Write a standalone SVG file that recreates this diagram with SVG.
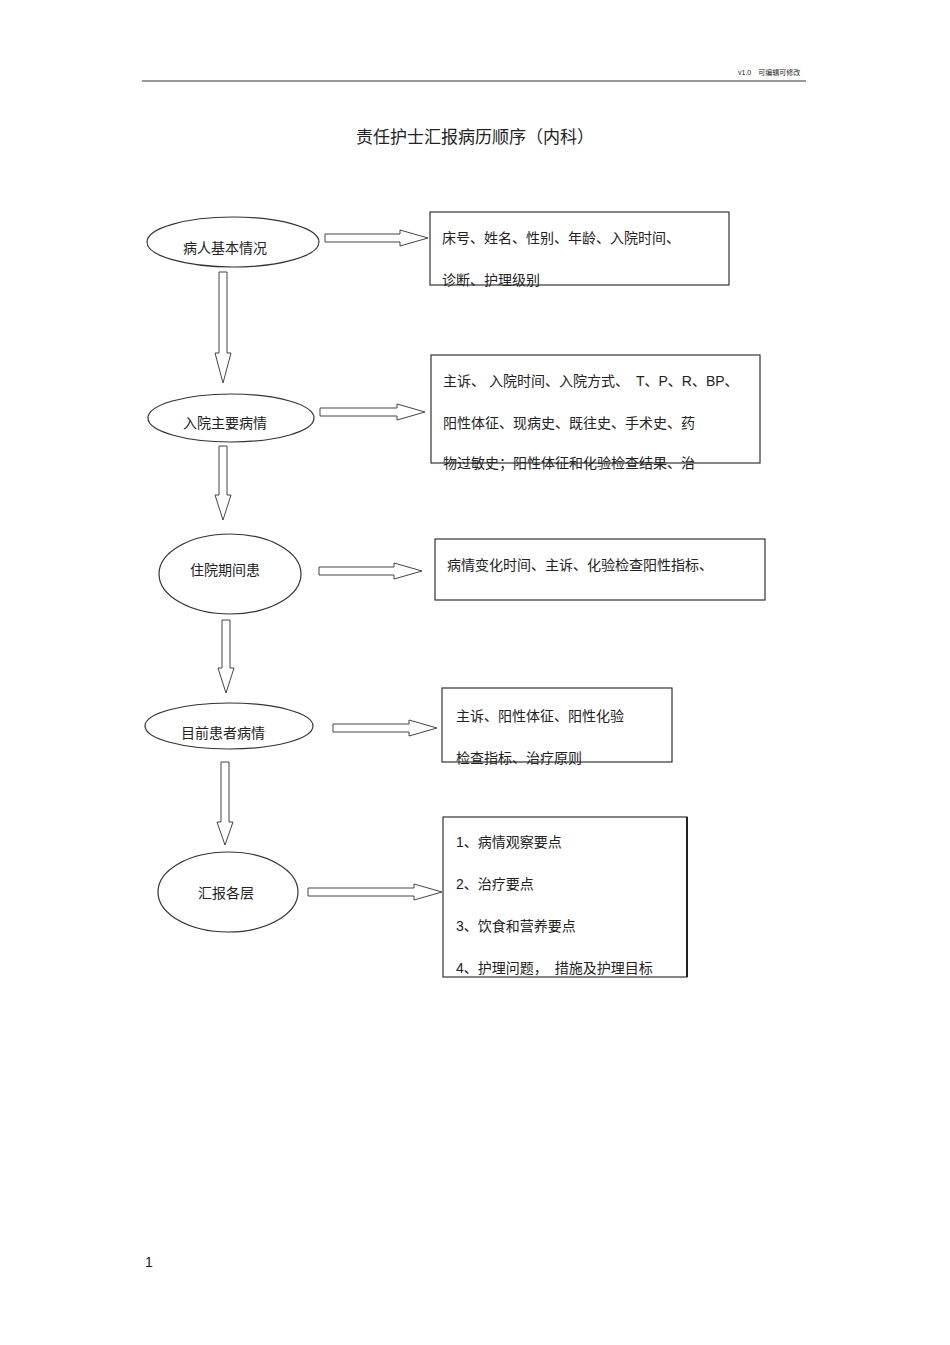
<svg xmlns="http://www.w3.org/2000/svg" width="950" height="1345" viewBox="0 0 950 1345">
<style>
text{font-family:"Liberation Sans","Noto Sans CJK SC",sans-serif;fill:#222;font-size:14px}
.n{fill:#fff;stroke:#333;stroke-width:1.2}
.a{fill:#fff;stroke:#444;stroke-width:1}
.t{text-anchor:middle}
</style>
<rect width="950" height="1345" fill="#fff"/>
<line x1="142" y1="81" x2="806" y2="81" stroke="#333" stroke-width="1"/>
<text x="738" y="75" style="font-size:7px">v1.0　可编辑可修改</text>
<text x="475" y="143" class="t" style="font-size:17px">责任护士汇报病历顺序（内科）</text>
<g id="connectors">
<polygon class="a" points="325,234 400,234 400,230 428,238 400,246 400,242 325,242"/>
<polygon class="a" points="320,408 397,408 397,404 425,412 397,420 397,416 320,416"/>
<polygon class="a" points="319,567 394,567 394,563 422,571 394,579 394,575 319,575"/>
<polygon class="a" points="333,724 409,724 409,720 437,728 409,736 409,732 333,732"/>
<polygon class="a" points="308,888 414,888 414,884 442,892 414,900 414,896 308,896"/>
<polygon class="a" points="219,272 227,272 227,353 231,353 223,383 215,353 219,353"/>
<polygon class="a" points="219,446 227,446 227,495 231,495 223,520 215,495 219,495"/>
<polygon class="a" points="222,620 230,620 230,668 234,668 226,693 218,668 222,668"/>
<polygon class="a" points="221,762 229,762 229,822 233,822 225,845 217,822 221,822"/>
</g>
<g id="n1"><ellipse class="n" cx="233" cy="242" rx="86" ry="25"/><text x="225" y="253" class="t">病人基本情况</text></g>
<g id="n2"><ellipse class="n" cx="231" cy="418" rx="83" ry="24"/><text x="225" y="428" class="t">入院主要病情</text></g>
<g id="n3"><ellipse class="n" cx="230" cy="574" rx="71" ry="40"/><text x="225" y="575" class="t">住院期间患</text></g>
<g id="n4"><ellipse class="n" cx="229" cy="726" rx="84" ry="23"/><text x="223" y="738" class="t">目前患者病情</text></g>
<g id="n5"><ellipse class="n" cx="228" cy="892" rx="70" ry="40"/><text x="226" y="898" class="t">汇报各层</text></g>
<g id="b1"><rect class="n" x="430" y="212" width="299" height="73"/><text x="442" y="243">床号、姓名、性别、年龄、入院时间、</text><text x="442" y="285">诊断、护理级别</text></g>
<g id="b2"><rect class="n" x="431" y="355" width="329" height="108"/><text x="443" y="386">主诉、 入院时间、入院方式、　T、P、R、BP、</text><text x="443" y="428">阳性体征、现病史、既往史、手术史、药</text><text x="443" y="468">物过敏史；阳性体征和化验检查结果、治</text></g>
<g id="b3"><rect class="n" x="435" y="539" width="330" height="61"/><text x="447" y="570">病情变化时间、主诉、化验检查阳性指标、</text></g>
<g id="b4"><rect class="n" x="442" y="688" width="230" height="74"/><text x="456" y="721">主诉、阳性体征、阳性化验</text><text x="456" y="763">检查指标、治疗原则</text></g>
<g id="b5"><rect class="n" x="443" y="817" width="244" height="160"/><line x1="687" y1="817" x2="687" y2="977" stroke="#222" stroke-width="2"/><text x="456" y="847">1、病情观察要点</text><text x="456" y="889">2、治疗要点</text><text x="456" y="931">3、饮食和营养要点</text><text x="456" y="973">4、护理问题，　措施及护理目标</text></g>
<text x="145" y="1267">1</text>
</svg>
